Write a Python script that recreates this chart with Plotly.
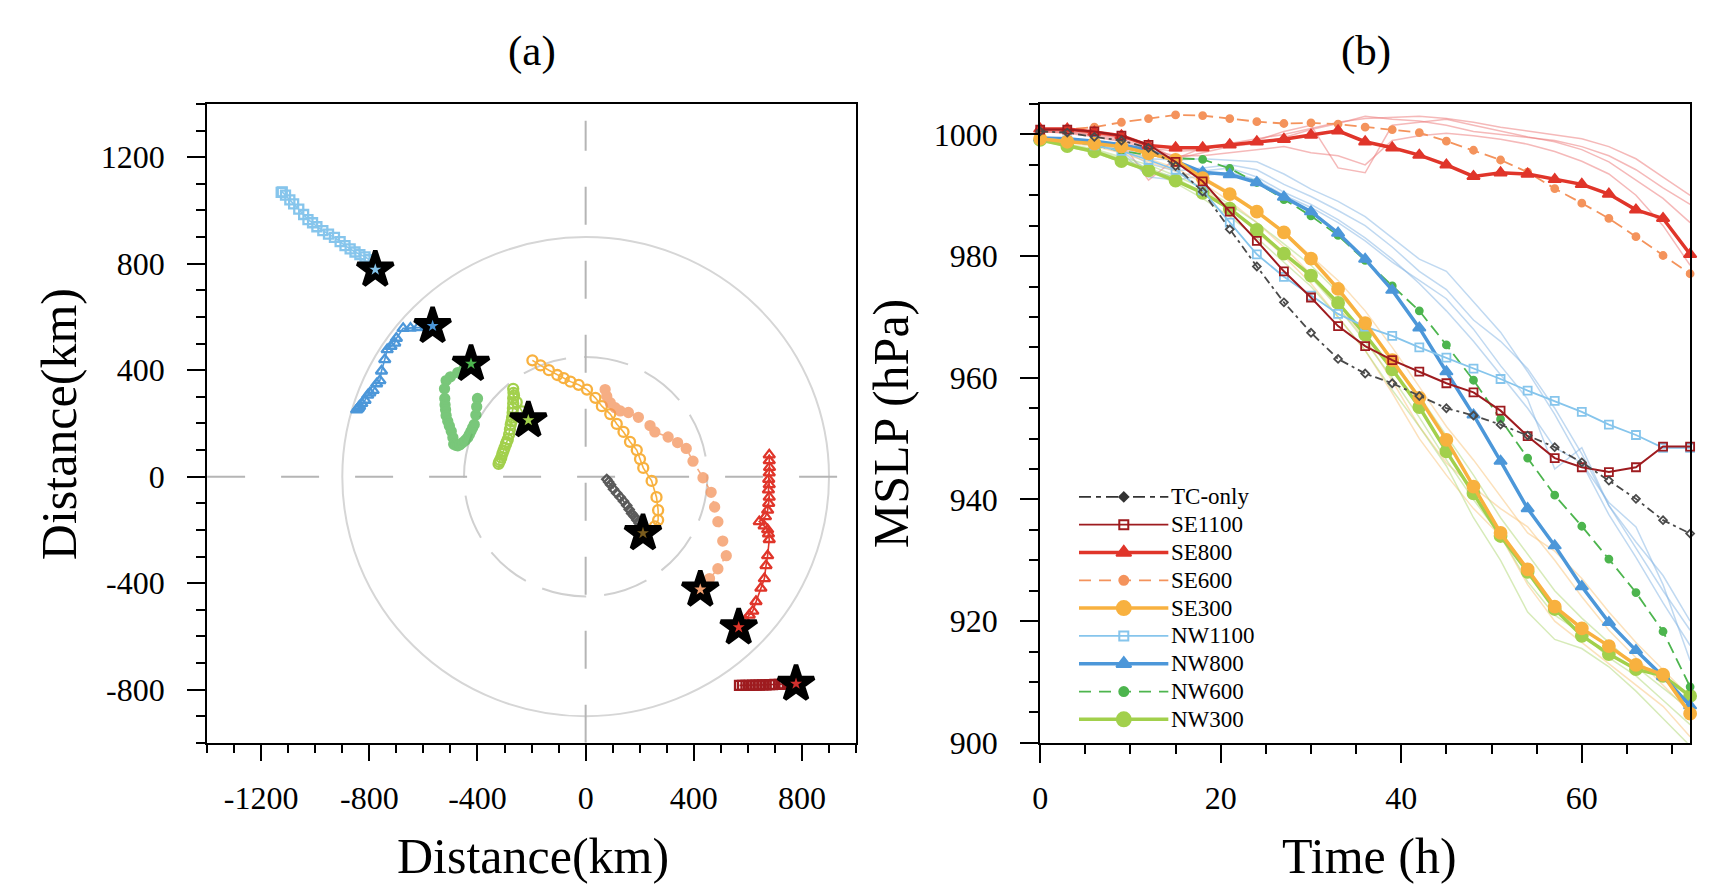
import plotly.graph_objects as go

W, H = 1709, 890
SERIF = "Liberation Serif"

# ---------------- Panel (a): tracks (km) ----------------
nw1100_x = [-778, -800, -816, -835, -853, -871, -890, -908, -929, -951, -972, -994, -1010, -1027, -1043, -1061, -1080, -1094, -1110, -1122, -1126]
nw1100_y = [778, 815, 826, 834, 844, 856, 868, 883, 899, 911, 924, 939, 954, 966, 985, 1005, 1025, 1040, 1058, 1070, 1068]

nw800_x = [-566, -590, -620, -648, -675, -700, -706, -720, -734, -743, -755, -761, -773, -786, -798, -806, -816, -828, -836, -841, -847, -843, -838]
nw800_y = [566, 562, 560, 558, 557, 520, 502, 490, 477, 440, 397, 361, 349, 324, 315, 306, 287, 275, 265, 257, 251, 255, 262]

nw600_x = [-424, -450, -473, -500, -516, -522, -521, -520, -518, -516, -510, -504, -497, -491, -488, -480, -473, -465, -455, -445, -436, -430, -424, -418, -412, -406, -403, -400]
nw600_y = [424, 405, 391, 375, 361, 330, 294, 270, 251, 230, 208, 190, 171, 147, 122, 118, 116, 120, 128, 137, 147, 158, 171, 184, 196, 232, 263, 294]

nw300_x = [-212, -235, -255, -265, -268, -267, -268, -268, -269, -270, -272, -274, -277, -280, -283, -288, -292, -295, -300, -304, -308, -312, -316, -320, -322]
nw300_y = [212, 245, 280, 305, 330, 315, 295, 275, 257, 240, 222, 208, 196, 178, 159, 140, 130, 122, 108, 97, 86, 72, 62, 55, 48]

se300_x = [212, 256, 268, 268, 262, 244, 213, 201, 189, 164, 140, 115, 91, 60, 36, 5, -26, -56, -81, -105, -136, -167, -197]
se300_y = [-212, -187, -163, -126, -77, -16, 33, 66, 100, 131, 168, 198, 235, 265, 296, 327, 345, 357, 370, 382, 400, 418, 437]

se600_x = [424, 458, 489, 520, 507, 489, 477, 464, 434, 397, 372, 340, 305, 256, 238, 195, 158, 128, 109, 91, 78, 72]
se600_y = [-424, -383, -346, -297, -242, -169, -114, -59, -4, 58, 106, 128, 149, 168, 192, 223, 241, 247, 259, 278, 302, 327]

se800_x = [566, 590, 605, 618, 630, 648, 661, 667, 673, 679, 676, 673, 660, 642, 665, 673, 677, 679, 676, 679, 677, 679, 680, 679, 679]
se800_y = [-566, -540, -520, -505, -469, -419, -383, -334, -297, -236, -215, -199, -185, -169, -150, -126, -100, -77, -50, -30, -10, 14, 35, 60, 82]

se1100_x = [778, 765, 750, 746, 730, 716, 700, 691, 680, 667, 655, 642, 630, 618, 605, 593, 580, 569]
se1100_y = [-778, -772, -770, -778, -779, -780, -780, -781, -781, -782, -782, -783, -783, -783, -784, -784, -784, -784]

tc_x = [212, 207, 198, 189, 180, 170, 161, 152, 140, 128, 115, 103, 92, 85, 78]
tc_y = [-212, -187, -175, -163, -150, -138, -123, -108, -92, -77, -62, -47, -30, -20, -10]

# reference geometry (km)
RING_RADII = [900, 450]
CROSS_H = [-1400, 936]
CROSS_V = [-1000, 1337]

# ---------------- Panel (b): MSLP (hPa) ----------------
hours = [0, 3, 6, 9, 12, 15, 18, 21, 24, 27, 30, 33, 36, 39, 42, 45, 48, 51, 54, 57, 60, 63, 66, 69, 72]

p_tc = [1000.5, 1000.3, 999.6, 999.0, 997.8, 994.8, 990.6, 984.4, 978.3, 972.4, 967.4, 963.1, 960.7, 959.1, 957.0, 955.0, 953.8, 952.3, 950.5, 948.6, 946.1, 943.1, 940.1, 936.6, 934.4]
p_se1100 = [1000.8, 1000.8, 1000.5, 999.8, 998.3, 995.5, 992.3, 987.3, 982.5, 977.5, 973.2, 968.5, 965.2, 962.9, 961.0, 959.1, 957.6, 954.6, 950.4, 946.8, 945.3, 944.5, 945.3, 948.7, 948.7]
p_se800 = [1000.9, 1000.9, 1000.4, 999.8, 998.2, 997.8, 997.8, 998.3, 998.8, 999.2, 999.9, 1000.6, 998.8, 997.8, 996.6, 995.0, 993.1, 993.7, 993.5, 992.6, 991.8, 990.2, 987.6, 986.2, 980.3]
p_se600 = [1000.8, 1000.8, 1001.2, 1002.0, 1002.6, 1003.2, 1003.1, 1002.6, 1002.1, 1001.8, 1001.9, 1001.7, 1001.2, 1000.8, 1000.3, 998.9, 997.4, 995.8, 993.8, 991.1, 988.7, 986.2, 983.2, 980.1, 977.1]
p_se300 = [999.3, 998.8, 998.5, 998.0, 996.9, 995.8, 992.8, 990.2, 987.3, 983.9, 979.6, 974.6, 969.0, 962.9, 956.7, 949.8, 942.1, 934.5, 928.5, 922.4, 918.8, 915.9, 912.8, 911.2, 904.8]
p_nw1100 = [999.3, 999.0, 998.2, 997.3, 995.8, 994.2, 990.8, 985.5, 980.3, 976.6, 973.5, 970.5, 968.4, 966.9, 965.0, 963.3, 961.5, 959.8, 957.9, 956.2, 954.4, 952.3, 950.6, 948.5, 948.5]
p_nw800 = [999.4, 999.3, 998.9, 998.3, 997.4, 995.6, 993.8, 993.4, 992.1, 989.7, 987.3, 983.8, 979.5, 974.4, 968.2, 961.0, 953.9, 946.3, 938.5, 932.4, 925.7, 919.8, 915.2, 910.9, 906.1]
p_nw600 = [999.5, 999.0, 998.2, 997.3, 996.6, 996.1, 995.9, 994.4, 992.1, 989.3, 986.6, 983.4, 979.3, 975.1, 971.0, 965.4, 959.6, 953.2, 946.8, 940.7, 935.6, 930.2, 924.7, 918.3, 909.2]
p_nw300 = [999.1, 998.1, 997.2, 995.6, 994.1, 992.4, 990.4, 987.8, 984.3, 980.4, 976.8, 972.3, 967.1, 961.4, 955.2, 947.9, 941.0, 934.0, 928.1, 922.0, 917.6, 914.6, 912.1, 911.0, 907.7]

# faint ensemble members
ens_red = [
    [1000.5, 1000.4, 1000.0, 999.3, 997.8, 997.2, 997.5, 998.5, 999.3, 1000.0, 1001.0, 1002.0, 1002.6, 1002.8, 1003.0, 1002.6, 1002.0, 1001.2, 1000.6, 1000.0, 999.3, 998.0, 996.0, 993.0, 990.0],
    [1000.5, 1000.2, 999.6, 998.8, 992.5, 996.0, 997.0, 998.0, 998.5, 999.5, 1000.8, 1001.8, 1003.0, 1002.5, 1002.2, 1001.5, 1000.5, 1000.0, 999.5, 999.0, 998.0, 996.5, 994.2, 991.2, 988.5],
    [1000.6, 1000.5, 1000.1, 999.5, 998.4, 996.0, 997.8, 998.0, 999.0, 1000.5, 1001.5, 994.5, 993.7, 1001.5, 1002.0, 1002.5, 1001.5, 1000.5, 999.6, 998.8, 997.5, 995.5, 992.5, 989.5, 985.5],
    [1000.4, 1000.3, 999.8, 999.0, 997.5, 996.5, 996.5, 997.0, 997.5, 998.0, 997.0, 996.5, 995.0, 999.0, 999.8, 1000.2, 999.8, 999.2, 998.4, 997.2, 995.6, 993.5, 990.0, 985.0, 978.5],
]
ens_blue = [
    [999.5, 999.3, 998.8, 998.0, 996.0, 995.8, 996.0, 995.8, 995.5, 993.5, 991.0, 989.0, 986.5, 983.0, 979.5, 977.5, 972.5, 967.5, 961.0, 954.0, 946.0, 937.5, 930.5, 923.0, 916.0],
    [999.4, 999.2, 998.6, 997.5, 995.2, 994.0, 994.5, 995.0, 994.2, 991.8, 989.8, 987.5, 985.0, 981.5, 977.5, 974.5, 969.5, 966.0, 961.5, 955.0, 947.5, 939.0, 932.0, 925.0, 918.5],
    [999.5, 999.2, 998.5, 997.2, 994.0, 993.0, 994.0, 994.5, 993.0, 990.5, 988.5, 986.0, 983.0, 979.5, 975.5, 971.0, 966.0, 960.5, 955.0, 948.5, 946.0, 939.5, 935.5, 926.0, 913.5],
    [999.4, 999.1, 998.4, 997.0, 993.0, 992.5, 993.2, 993.8, 992.5, 990.0, 988.0, 985.5, 982.5, 979.0, 976.0, 973.0, 968.0, 962.0, 956.5, 945.0, 948.5, 939.0, 933.0, 927.5, 920.0],
]
ens_orange = [
    [999.3, 998.8, 998.3, 997.5, 996.0, 994.5, 992.0, 989.0, 985.5, 981.5, 977.0, 971.5, 966.5, 959.5, 952.0, 946.0, 942.0, 938.5, 935.5, 930.0, 924.0, 918.5, 914.0, 909.5, 905.0],
    [999.2, 998.7, 998.0, 997.0, 995.5, 994.0, 991.0, 988.0, 984.0, 980.0, 975.5, 970.0, 964.5, 957.5, 950.0, 944.0, 938.5, 934.0, 926.0, 920.0, 916.5, 913.0, 909.5, 906.0, 901.0],
    [999.4, 999.0, 998.6, 998.0, 996.8, 995.5, 993.0, 990.5, 987.5, 984.0, 980.0, 976.0, 971.0, 965.0, 958.5, 952.0, 946.5, 940.5, 934.5, 931.5, 927.0, 921.5, 916.5, 912.0, 907.5],
]
ens_green = [
    [999.0, 998.0, 997.0, 995.5, 994.0, 992.0, 989.5, 986.5, 983.0, 979.0, 975.0, 970.0, 964.5, 958.0, 952.0, 945.5, 937.0, 930.0, 921.5, 917.0, 915.5, 912.5, 908.5, 904.0, 899.5],
    [999.1, 998.2, 997.4, 996.0, 994.5, 992.8, 990.5, 987.5, 984.5, 980.5, 976.5, 971.5, 966.0, 960.0, 953.5, 946.5, 940.0, 934.0, 926.5, 921.0, 918.0, 914.0, 911.0, 907.0, 903.0],
    [999.2, 998.4, 997.6, 996.3, 995.0, 993.2, 991.2, 988.5, 985.5, 982.0, 978.5, 974.0, 969.0, 963.0, 957.0, 950.5, 944.0, 937.0, 931.0, 925.0, 920.5, 916.5, 912.5, 909.0, 905.5],
]

x_ticks_a = [-1200, -800, -400, 0, 400, 800]
y_ticks_a = [-800, -400, 0, 400, 800, 1200]
x_ticks_b = [0, 20, 40, 60]
y_ticks_b = [900, 920, 940, 960, 980, 1000]

# ---------------- styles ----------------
C = {
    "TC-only": "#4a4a4a",
    "SE1100": "#9E1B1F",
    "SE800": "#E0352A",
    "SE600": "#F4935C",
    "SE300": "#F8B13F",
    "NW1100": "#86C5EC",
    "NW800": "#4C97D9",
    "NW600": "#4DB54E",
    "NW300": "#A2D04C",
}
STAR_INNER = {
    "NW1100": "#86C5EC", "NW800": "#4C97D9", "NW600": "#4DB54E", "NW300": "#A2D04C",
    "SE300": "#7a5c1e", "SE600": "#F4A070", "SE800": "#E0352A", "SE1100": "#D0302E",
}

fig = go.Figure()

# ---- panel (a) tracks ----
tracks = [
    ("NW1100", nw1100_x, nw1100_y, "square-open", 9, "solid", 1.0),
    ("NW800", nw800_x, nw800_y, "triangle-up-open", 10, "solid", 1.0),
    ("NW600", nw600_x, nw600_y, "circle", 9, "dash", 0.75),
    ("NW300", nw300_x, nw300_y, "circle-open", 10, "solid", 1.0),
    ("SE300", se300_x, se300_y, "circle-open", 10, "solid", 1.0),
    ("SE600", se600_x, se600_y, "circle", 9, "dash", 0.75),
    ("SE800", se800_x, se800_y, "triangle-up-open", 10, "solid", 1.0),
    ("SE1100", se1100_x, se1100_y, "square-open", 9, "solid", 1.0),
    ("TC-only", tc_x, tc_y, "diamond-open", 7, "dash", 0.9),
]
for name, xs, ys, sym, sz, dash, op in tracks:
    fig.add_trace(go.Scatter(
        x=xs, y=ys, mode="lines+markers", xaxis="x", yaxis="y",
        line=dict(color=C[name], width=1.6, dash=dash),
        marker=dict(symbol=sym, size=sz, color=C[name], line=dict(color=C[name], width=2.3)),
        opacity=op, showlegend=False, hoverinfo="skip"))

for name, xs, ys, sym, sz, dash, op in tracks:
    if name == "TC-only":
        continue
    fig.add_trace(go.Scatter(
        x=[xs[0]], y=[ys[0]], mode="markers", xaxis="x", yaxis="y",
        marker=dict(symbol="star", size=27, color="black", line=dict(color="black", width=4.5)),
        showlegend=False, hoverinfo="skip", cliponaxis=False))
    fig.add_trace(go.Scatter(
        x=[xs[0]], y=[ys[0]], mode="markers", xaxis="x", yaxis="y",
        marker=dict(symbol="star", size=9, color=STAR_INNER[name], line=dict(width=0)),
        showlegend=False, hoverinfo="skip", cliponaxis=False))

# ---- panel (b) ----
for grp, col in [(ens_red, "rgba(236,115,115,0.5)"), (ens_blue, "rgba(130,180,228,0.5)"),
                 (ens_orange, "rgba(250,195,120,0.5)"), (ens_green, "rgba(175,215,115,0.5)")]:
    for ys in grp:
        fig.add_trace(go.Scatter(x=hours, y=ys, mode="lines", xaxis="x2", yaxis="y2",
                                 line=dict(color=col, width=1.5), showlegend=False, hoverinfo="skip"))

series_b = [
    ("NW300", p_nw300, "circle", 12, 3.5, "solid"),
    ("NW600", p_nw600, "circle", 7, 1.8, "12px,6px"),
    ("NW800", p_nw800, "triangle-up", 11, 3.5, "solid"),
    ("NW1100", p_nw1100, "square-open", 8, 1.8, "solid"),
    ("SE300", p_se300, "circle", 12, 3.5, "solid"),
    ("SE600", p_se600, "circle", 7, 1.8, "12px,6px"),
    ("SE800", p_se800, "triangle-up", 11, 3.5, "solid"),
    ("SE1100", p_se1100, "square-open", 8, 2.0, "solid"),
    ("TC-only", p_tc, "diamond-open", 6, 1.8, "8px,4px,3px,4px"),
]
for name, ys, sym, sz, lw, dash in series_b:
    fig.add_trace(go.Scatter(
        x=hours, y=ys, mode="lines+markers", xaxis="x2", yaxis="y2",
        line=dict(color=C[name], width=lw, dash=dash),
        marker=dict(symbol=sym, size=sz, color=C[name], line=dict(color=C[name], width=1.8)),
        cliponaxis=False, showlegend=False, hoverinfo="skip"))

# ---- custom legend (panel b) ----
legend_rows = [
    ("TC-only", "diamond", 7, 1.8, "12px,5px,5px,5px", "#333333"),
    ("SE1100", "square-open", 9, 1.8, "solid", C["SE1100"]),
    ("SE800", "triangle-up", 13, 3.5, "solid", C["SE800"]),
    ("SE600", "circle", 9, 1.8, "12px,8px", C["SE600"]),
    ("SE300", "circle", 14, 3.5, "solid", C["SE300"]),
    ("NW1100", "square-open", 9, 1.8, "solid", C["NW1100"]),
    ("NW800", "triangle-up", 13, 3.5, "solid", C["NW800"]),
    ("NW600", "circle", 9, 1.8, "12px,8px", C["NW600"]),
    ("NW300", "circle", 14, 3.5, "solid", C["NW300"]),
]
annotations = []
for i, (name, sym, sz, lw, dash, col) in enumerate(legend_rows):
    fig.add_trace(go.Scatter(x=[0, 1], y=[i, i], mode="lines", xaxis="x3", yaxis="y3",
                             line=dict(color=col, width=lw, dash=dash), showlegend=False, hoverinfo="skip"))
    fig.add_trace(go.Scatter(x=[0.5], y=[i], mode="markers", xaxis="x3", yaxis="y3",
                             marker=dict(symbol=sym, size=sz, color=col, line=dict(color=col, width=2)),
                             showlegend=False, hoverinfo="skip", cliponaxis=False))
    annotations.append(dict(x=1.0, y=i, xref="x3", yref="y3", text=name, showarrow=False,
                            xanchor="left", yanchor="middle",
                            font=dict(family=SERIF, size=23, color="black")))

# ---- shapes for panel (a) ----
shapes = [
    dict(type="circle", xref="x", yref="y", x0=-RING_RADII[0], y0=-RING_RADII[0], x1=RING_RADII[0], y1=RING_RADII[0],
         line=dict(color="#d6d6d6", width=2), layer="below"),
    dict(type="circle", xref="x", yref="y", x0=-RING_RADII[1], y0=-RING_RADII[1], x1=RING_RADII[1], y1=RING_RADII[1],
         line=dict(color="#d0d0d0", width=2, dash="45px,18px"), layer="below"),
    dict(type="line", xref="x", yref="y", x0=CROSS_H[0], x1=CROSS_H[1], y0=0, y1=0,
         line=dict(color="#b5b5b5", width=2, dash="38px,36px"), layer="below"),
    dict(type="line", xref="x", yref="y", x0=0, x1=0, y0=CROSS_V[0], y1=CROSS_V[1],
         line=dict(color="#b5b5b5", width=2, dash="38px,36px"), layer="below"),
]

# ---- titles ----
def ann(text, x, y, size, angle=0):
    return dict(text=text, x=x / W, y=1 - y / H, xref="paper", yref="paper", showarrow=False,
                xanchor="center", yanchor="middle", textangle=angle,
                font=dict(family=SERIF, size=size, color="black"))

annotations += [
    ann("(a)", 518, 44, 43),
    ann("(b)", 1356, 44, 43),
    ann("Distance(km)", 519, 865, 50),
    ann("Time (h)", 1360, 865, 50),
    ann("Distance(km)", 44, 425, 50, -90),
    ann("MSLP (hPa)", 880, 424, 50, -90),
]

Y_DOM = [(H - 750) / H, (H - 98) / H]
axis_common = dict(showline=True, linecolor="black", linewidth=2, mirror=True, ticks="outside",
                   tickcolor="black", tickwidth=2, showgrid=False, zeroline=False,
                   tickfont=dict(family=SERIF, size=32, color="black"))
minor_common = dict(ticks="outside", tickcolor="black", tickwidth=2, showgrid=False)


def labels(vals):
    return [str(v) for v in vals]


fig.update_layout(
    width=W, height=H, margin=dict(l=0, r=0, t=0, b=0),
    paper_bgcolor="white", plot_bgcolor="white", showlegend=False,
    xaxis=dict(domain=[192 / W, 844 / W], range=[-1400, 1000], tickmode="array",
               tickvals=x_ticks_a, ticktext=labels(x_ticks_a),
               ticklen=16, minor=dict(dtick=100, tick0=0, ticklen=8, **minor_common),
               ticklabelstandoff=10, anchor="y", **axis_common),
    yaxis=dict(domain=Y_DOM, range=[-1000, 1400], tickmode="array",
               tickvals=y_ticks_a, ticktext=labels(y_ticks_a),
               ticklen=18, minor=dict(dtick=100, tick0=0, ticklen=9, **minor_common),
               ticklabelstandoff=16, anchor="x", **axis_common),
    xaxis2=dict(domain=[1029 / W, 1682 / W], range=[0, 72], tickmode="array",
                tickvals=x_ticks_b, ticktext=labels(x_ticks_b),
                ticklen=18, minor=dict(dtick=5, tick0=0, ticklen=9, **minor_common),
                ticklabelstandoff=8, anchor="y2", **axis_common),
    yaxis2=dict(domain=Y_DOM, range=[900, 1005], tickmode="array",
                tickvals=y_ticks_b, ticktext=labels(y_ticks_b),
                ticklen=18, minor=dict(dtick=5, tick0=900, ticklen=9, **minor_common),
                ticklabelstandoff=16, anchor="x2", **axis_common),
    xaxis3=dict(domain=[1068 / W, 1158 / W], range=[0, 1], visible=False, anchor="y3"),
    yaxis3=dict(domain=[(H - 740.2) / H, (H - 484.8) / H], range=[8.5, -0.5], visible=False, anchor="x3"),
    shapes=shapes, annotations=annotations,
)

fig.write_html("out.html")
